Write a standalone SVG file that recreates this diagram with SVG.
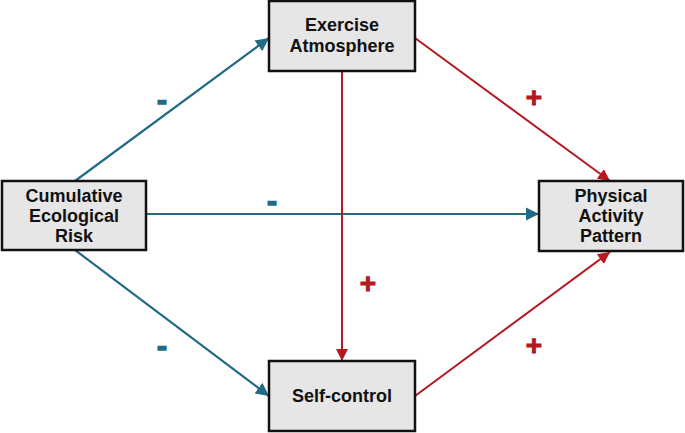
<svg xmlns="http://www.w3.org/2000/svg" width="685" height="433" viewBox="0 0 685 433">
<style>
.box{fill:#e6e6e6;stroke:#111;stroke-width:2.5}
.t{font-family:"Liberation Sans",Arial,sans-serif;font-weight:bold;font-size:18px;fill:#111;text-anchor:middle}
.b{stroke:#236b85;stroke-width:2.2;fill:none;marker-end:url(#ab)}
.r{stroke:#b3191e;stroke-width:2;fill:none;marker-end:url(#ar)}
.sb{font-family:"Liberation Sans",Arial,sans-serif;font-weight:bold;font-size:30px;fill:#236b85;stroke:#236b85;stroke-width:1.5;text-anchor:middle}
.sr{font-family:"Liberation Sans",Arial,sans-serif;font-weight:bold;font-size:28px;fill:#b3191e;stroke:#b3191e;stroke-width:1;text-anchor:middle}
</style>
<defs>
<marker id="ab" viewBox="0 0 10 10" refX="10" refY="5" markerWidth="6" markerHeight="6" markerUnits="strokeWidth" orient="auto"><path d="M0,0L10,5L0,10z" fill="#236b85"/></marker>
<marker id="ar" viewBox="0 0 10 10" refX="10" refY="5" markerWidth="6" markerHeight="6" markerUnits="strokeWidth" orient="auto"><path d="M0,0L10,5L0,10z" fill="#b3191e"/></marker>
</defs>
<rect width="685" height="433" fill="#fff"/>
<g id="connectors">
<line class="b" x1="75" y1="181" x2="269" y2="38"/>
<line class="b" x1="146" y1="214" x2="539" y2="214"/>
<line class="b" x1="75" y1="250" x2="269" y2="396"/>
<line class="r" x1="415" y1="38" x2="610" y2="181"/>
<line class="r" x1="342" y1="71" x2="342" y2="361"/>
<line class="r" x1="415" y1="396" x2="610" y2="252"/>
<text class="sb" x="162" y="110">-</text>
<text class="sb" x="272" y="211">-</text>
<text class="sb" x="162" y="356">-</text>
<text class="sr" x="534" y="107">+</text>
<text class="sr" x="368" y="293">+</text>
<text class="sr" x="534" y="355">+</text>
</g>
<g id="cer"><rect class="box" x="2" y="181" width="144" height="69"/>
<text class="t" x="74" y="202">Cumulative</text><text class="t" x="74" y="222">Ecological</text><text class="t" x="74" y="242">Risk</text></g>
<g id="ea"><rect class="box" x="269" y="1" width="146" height="70"/>
<text class="t" x="342" y="31">Exercise</text><text class="t" x="342" y="52">Atmosphere</text></g>
<g id="pap"><rect class="box" x="539" y="181" width="144" height="70"/>
<text class="t" x="611" y="202">Physical</text><text class="t" x="611" y="222">Activity</text><text class="t" x="611" y="242">Pattern</text></g>
<g id="sc"><rect class="box" x="269" y="361" width="146" height="70"/>
<text class="t" x="342" y="402">Self-control</text></g>
</svg>
